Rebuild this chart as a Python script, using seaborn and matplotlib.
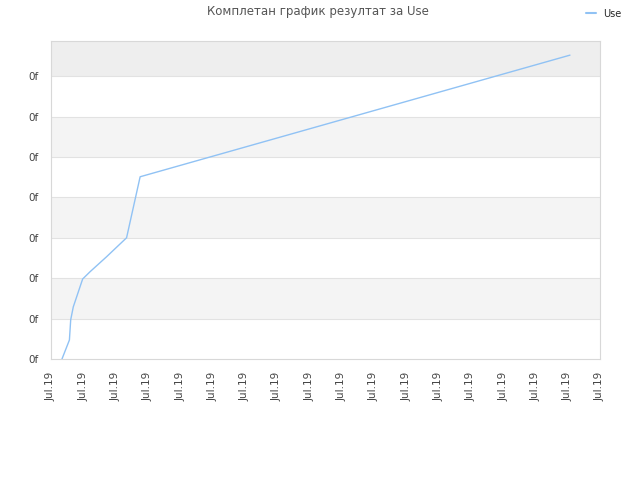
import pandas as pd
import matplotlib
matplotlib.use("Agg")
import matplotlib.pyplot as plt
import seaborn as sns
from matplotlib.lines import Line2D

# Data (x in tick steps, y in gridline steps)
x_vals = [0.34, 0.57, 0.61, 0.69, 0.98, 1.21, 1.72, 2.34, 2.76, 16.07]
y_vals = [0.00, 0.47, 0.97, 1.29, 1.98, 2.16, 2.53, 3.00, 4.51, 7.52]
series_name = "Use"
x_tick_labels = ["Jul.19"] * 18
y_tick_labels = ["0f"] * 8
title = "Комплетан график резултат за Use"

df = pd.DataFrame({"x": x_vals, "y": y_vals, "series": series_name})

sns.set_theme(style="white")
plt.rcParams['font.family'] = ['DejaVu Sans']

fig = plt.figure(figsize=(6.4, 4.8), dpi=100)
ax = fig.add_axes([51 / 640, 1 - 359 / 480, 549 / 640, 318 / 480])

ymax = 7.87
# alternating background bands
for i in range(len(y_tick_labels)):
    top = min(i + 1, ymax)
    if i == len(y_tick_labels) - 1:
        ax.axhspan(i, top, color="#eeeeee", zorder=0, lw=0)
    elif i % 2 == 1:
        ax.axhspan(i, top, color="#f4f4f4", zorder=0, lw=0)
for i in range(1, len(y_tick_labels)):
    ax.axhline(i, color="#e2e2e2", lw=0.8, zorder=1)

sns.lineplot(data=df, x="x", y="y", hue="series", palette=["#90c2f4"],
             linewidth=1.0, ax=ax, legend=False, zorder=3)

ax.set_xlim(0, len(x_tick_labels) - 1)
ax.set_ylim(0, ymax)
ax.set_xticks(range(len(x_tick_labels)))
ax.set_xticklabels(x_tick_labels, rotation=90, fontsize=7.5, color="#444444")
ax.set_yticks(range(len(y_tick_labels)))
ax.set_yticklabels(y_tick_labels, fontsize=7.5, color="#444444")
ax.tick_params(axis="x", length=0, pad=9)
ax.tick_params(axis="y", length=0, pad=9)
ax.set_xlabel("")
ax.set_ylabel("")
for s in ax.spines.values():
    s.set_color("#d8d8d8")
    s.set_linewidth(0.8)

fig.text(318 / 640, 1 - 12 / 480, title, ha="center", va="center",
         fontsize=8.5, color="#555555")

handle = Line2D([], [], color="#90c2f4", lw=1.5)
fig.legend([handle], [series_name], loc="upper right", bbox_to_anchor=(0.985, 1.0),
           frameon=False, fontsize=7, handlelength=1.0, handletextpad=0.8)

fig.savefig("out.png", dpi=100)
